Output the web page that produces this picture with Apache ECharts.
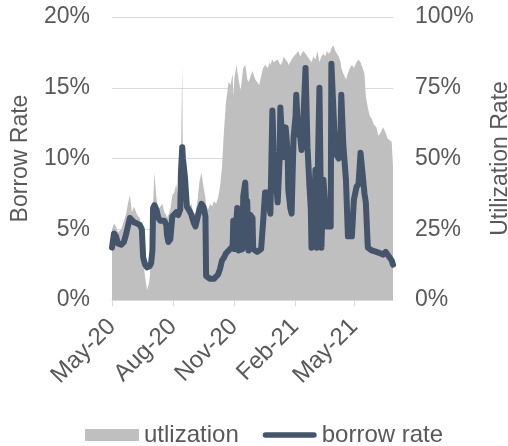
<!DOCTYPE html>
<html>
<head>
<meta charset="utf-8">
<script src="https://cdn.jsdelivr.net/npm/echarts@6/dist/echarts.min.js"></script>
<style>
  html, body { margin: 0; padding: 0; background: #fff; }
  #chart { width: 508px; height: 446px; }
</style>
</head>
<body>
<div id="chart"></div>
<script>
// dates (irregular sampling)
const dates = [
  '2020-05-01','2020-05-04','2020-05-07','2020-05-10','2020-05-15','2020-05-19','2020-05-22','2020-05-25','2020-05-28','2020-05-31',
  '2020-06-03','2020-06-08','2020-06-12','2020-06-15','2020-06-17','2020-06-20','2020-06-23','2020-06-26','2020-06-27','2020-06-29',
  '2020-07-01','2020-07-02','2020-07-04','2020-07-07','2020-07-10','2020-07-13','2020-07-16','2020-07-19','2020-07-22','2020-07-23',
  '2020-07-25','2020-07-28','2020-07-31','2020-08-03','2020-08-06','2020-08-09','2020-08-12','2020-08-13','2020-08-15','2020-08-16',
  '2020-08-19','2020-08-22','2020-08-26','2020-08-29','2020-09-01','2020-09-04','2020-09-07','2020-09-10','2020-09-13','2020-09-16',
  '2020-09-19','2020-09-20','2020-09-23','2020-09-26','2020-09-29','2020-10-02','2020-10-05','2020-10-08','2020-10-11','2020-10-14',
  '2020-10-17','2020-10-20','2020-10-24','2020-10-27','2020-10-30','2020-10-31','2020-11-02','2020-11-05','2020-11-06','2020-11-08',
  '2020-11-11','2020-11-14','2020-11-15','2020-11-18','2020-11-20','2020-11-21','2020-11-23','2020-11-26','2020-11-29','2020-11-30',
  '2020-12-03','2020-12-06','2020-12-09','2020-12-12','2020-12-15','2020-12-18','2020-12-22','2020-12-25','2020-12-26','2020-12-29',
  '2020-12-31','2021-01-03','2021-01-06','2021-01-09','2021-01-10','2021-01-13','2021-01-15','2021-01-18','2021-01-21','2021-01-22',
  '2021-01-25','2021-01-27','2021-01-30','2021-02-02','2021-02-03','2021-02-06','2021-02-09','2021-02-11','2021-02-14','2021-02-17',
  '2021-02-20','2021-02-23','2021-02-25','2021-02-26','2021-03-01','2021-03-04','2021-03-06','2021-03-07','2021-03-10','2021-03-13',
  '2021-03-16','2021-03-19','2021-03-21','2021-03-24','2021-03-27','2021-03-28','2021-03-31','2021-04-03','2021-04-08','2021-04-11',
  '2021-04-12','2021-04-15','2021-04-19','2021-04-22','2021-04-25','2021-04-28','2021-05-01','2021-05-05','2021-05-08','2021-05-11',
  '2021-05-14','2021-05-17','2021-05-19','2021-05-22','2021-05-25','2021-05-28','2021-05-31','2021-06-04','2021-06-07','2021-06-10',
  '2021-06-14','2021-06-18','2021-06-21','2021-06-24','2021-06-27','2021-06-29'
];

// borrow rate, % (left axis)
const borrowRate = [
  3.7,4.7,4.5,4.0,3.9,4.1,4.6,5.2,5.8,5.7,
  5.5,5.4,5.3,5.0,3.0,2.5,2.3,2.3,2.4,2.6,
  3.5,6.5,6.7,6.4,5.8,5.6,5.7,5.6,5.3,4.6,
  4.1,4.3,5.9,6.0,6.2,6.0,6.4,9.0,10.8,10.0,
  8.7,6.6,6.3,6.0,5.5,5.2,5.8,6.4,6.8,6.6,
  5.9,1.7,1.6,1.5,1.5,1.5,1.6,1.8,2.2,2.8,
  3.0,3.3,3.5,3.5,3.8,5.6,3.6,3.6,6.5,3.5,
  3.4,3.6,7.3,8.3,6.0,7.0,3.5,6.0,5.8,3.6,
  3.6,3.4,3.5,3.6,5.5,7.6,7.6,7.5,6.1,13.4,
  10.5,8.5,6.9,10.0,13.6,11.0,10.1,12.2,10.5,7.8,
  6.5,6.1,11.5,13.0,14.5,11.8,11.5,10.6,13.0,16.4,
  10.8,8.0,6.4,3.7,5.5,9.2,3.7,8.0,15.0,3.7,
  8.5,6.5,5.2,5.2,5.2,16.7,16.8,10.4,10.0,12.0,
  14.5,11.0,8.5,4.5,4.5,4.5,7.1,8.0,8.2,10.4,
  10.3,7.5,6.9,3.7,3.6,3.5,3.4,3.4,3.3,3.3,
  3.2,3.4,3.2,3.1,2.8,2.5
];

// utilization, % (right axis)
const utilization = [
  25,27,26,24,25,28,30,34,37,31,
  33,30,29,24,14,8,3.5,6,8,20,
  30,34,45,36,32,33,34,31,30,29,
  30,32,37,38,41,36,38,50,83,45,
  42,36,33,34,30,31,35,42,45,40,
  36,33,32,34,33,35,34,36,40,47,
  60,70,77,76,80,72,79,83,81,78,
  74,80,82,83,80,78,77,79,81,80,
  78,77,76,76,82,83,82,84,83,85,
  84,84,85,85,83,84,86,85,84,83,
  84,85,86,86,87,88,86,87,88,87,
  86,85,85,84,86,85,87,88,84,86,
  87,86,88,87,88,89,90,88,86,84,
  82,80,78,80,82,83,82,84,85,84,
  84,80,72,68,65,64,62,61,58,59,
  61,59,57,57,56,47
];

const tickDates = ['2020-05-01','2020-08-01','2020-11-01','2021-02-01','2021-05-01'];
const tickLabels = ['May-20','Aug-20','Nov-20','Feb-21','May-21'];
const leftTicks = ['0%','5%','10%','15%','20%'];
const rightTicks = ['0%','25%','50%','75%','100%'];

// x is measured in days since the first date
const DAY = 86400000;
const t0 = Date.UTC(2020, 4, 1);
const dayOf = d => {
  const [y, m, dd] = d.split('-').map(Number);
  return Math.round((Date.UTC(y, m - 1, dd) - t0) / DAY);
};
const tickDays = tickDates.map(dayOf);

const FONT = 'Liberation Sans';
const TXT = '#595959';
const LINE = '#44546A';

const chart = echarts.init(document.getElementById('chart'), null, {renderer: 'canvas'});

chart.setOption({
  animation: false,
  textStyle: {fontFamily: FONT},
  grid: {left: 112, right: 115, top: 17, bottom: 146, outerBoundsMode: 'none'},
  legend: {
    top: 418,
    left: 80,
    itemWidth: 54,
    itemHeight: 12,
    itemGap: 24,
    symbolKeepAspect: true,
    textStyle: {color: TXT, fontSize: 24, fontFamily: FONT},
    data: [
      {name: 'utlization', icon: 'rect', itemStyle: {color: '#BFBFBF'}},
      {name: 'borrow rate', icon: 'path://M3,0 H55 A3,3 0 0 1 55,6 H3 A3,3 0 0 1 3,0 Z',
        itemStyle: {color: LINE}}
    ]
  },
  xAxis: {
    type: 'value',
    min: 0,
    max: dayOf(dates[dates.length - 1]),
    axisLine: {lineStyle: {color: '#D9D9D9', width: 1}},
    axisTick: {show: true, customValues: tickDays, length: 6, lineStyle: {color: '#D9D9D9'}},
    splitLine: {show: false},
    axisLabel: {
      customValues: tickDays,
      rotate: 45,
      margin: 23,
      color: TXT,
      fontSize: 24,
      fontFamily: FONT,
      formatter: v => {
        const i = tickDays.indexOf(v);
        return i >= 0 ? tickLabels[i] : '';
      }
    }
  },
  yAxis: [
    {
      type: 'value',
      min: 0, max: 20, interval: 5,
      name: 'Borrow Rate',
      nameLocation: 'middle',
      nameRotate: 90,
      nameGap: 80,
      nameTextStyle: {color: TXT, fontSize: 23, fontFamily: FONT},
      axisLine: {show: false},
      axisTick: {show: false},
      splitLine: {lineStyle: {color: '#D9D9D9', width: 1}},
      axisLabel: {margin: 22, color: TXT, fontSize: 23, fontFamily: FONT,
        formatter: v => leftTicks[v / 5]}
    },
    {
      type: 'value',
      min: 0, max: 100, interval: 25,
      name: 'Utilization Rate',
      nameLocation: 'middle',
      nameRotate: 90,
      nameGap: 96,
      nameTextStyle: {color: TXT, fontSize: 23, fontFamily: FONT},
      axisLine: {show: false},
      axisTick: {show: false},
      splitLine: {show: false},
      axisLabel: {margin: 22, color: TXT, fontSize: 23, fontFamily: FONT,
        formatter: v => rightTicks[v / 25]}
    }
  ],
  series: [
    {
      name: 'utlization',
      type: 'line',
      yAxisIndex: 1,
      symbol: 'none',
      lineStyle: {width: 0},
      areaStyle: {color: '#BFBFBF', opacity: 1},
      itemStyle: {color: '#BFBFBF'},
      data: dates.map((d, i) => [dayOf(d), utilization[i]])
    },
    {
      name: 'borrow rate',
      type: 'line',
      yAxisIndex: 0,
      symbol: 'none',
      lineStyle: {width: 6, color: LINE, cap: 'round', join: 'round'},
      itemStyle: {color: LINE},
      data: dates.map((d, i) => [dayOf(d), borrowRate[i]])
    }
  ]
});
</script>
</body>
</html>
